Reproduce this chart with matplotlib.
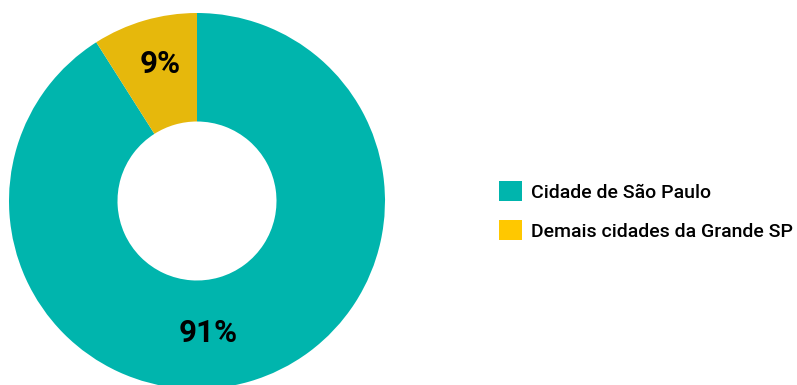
import matplotlib
matplotlib.use("Agg")
import matplotlib.pyplot as plt
from matplotlib.patches import Patch

categories = ["Cidade de São Paulo", "Demais cidades da Grande SP"]
values = [91, 9]
labels = ["91%", "9%"]

plt.rcParams['font.family'] = ['Roboto', 'DejaVu Sans']

slice_colors = ["#00B5AD", "#E6B80C"]
legend_colors = ["#00B5AD", "#FFC800"]

W, H = 797, 385
fig = plt.figure(figsize=(W/100, H/100), dpi=100)
cx, cy, r = 197, 201, 188
ax = fig.add_axes([(cx - r)/W, (H - cy - r)/H, 2*r/W, 2*r/H])
wedges, _ = ax.pie(values, colors=slice_colors, startangle=90, counterclock=False,
                   radius=1, wedgeprops=dict(width=1 - 79.5/188, edgecolor='none'))
ax.set_xlim(-1, 1)
ax.set_ylim(-1, 1)
ax.axis('off')

label_pos = [(0.058, -0.70), (-0.197, 0.73)]
for (x, y), t in zip(label_pos, labels):
    ax.text(x, y, t, ha='center', va='center', fontsize=22.5, fontweight='bold', color='black')

handles = [Patch(facecolor=c, edgecolor='none') for c in legend_colors]
leg = fig.legend(handles, categories, loc='center left', bbox_to_anchor=(499/W, 1 - 211/H),
                 frameon=False, handlelength=1.2, handleheight=1.2,
                 handletextpad=0.45, labelspacing=0.95, borderpad=0, borderaxespad=0,
                 prop={'weight': 'medium', 'size': 14})

fig.savefig("out.png", dpi=100)
